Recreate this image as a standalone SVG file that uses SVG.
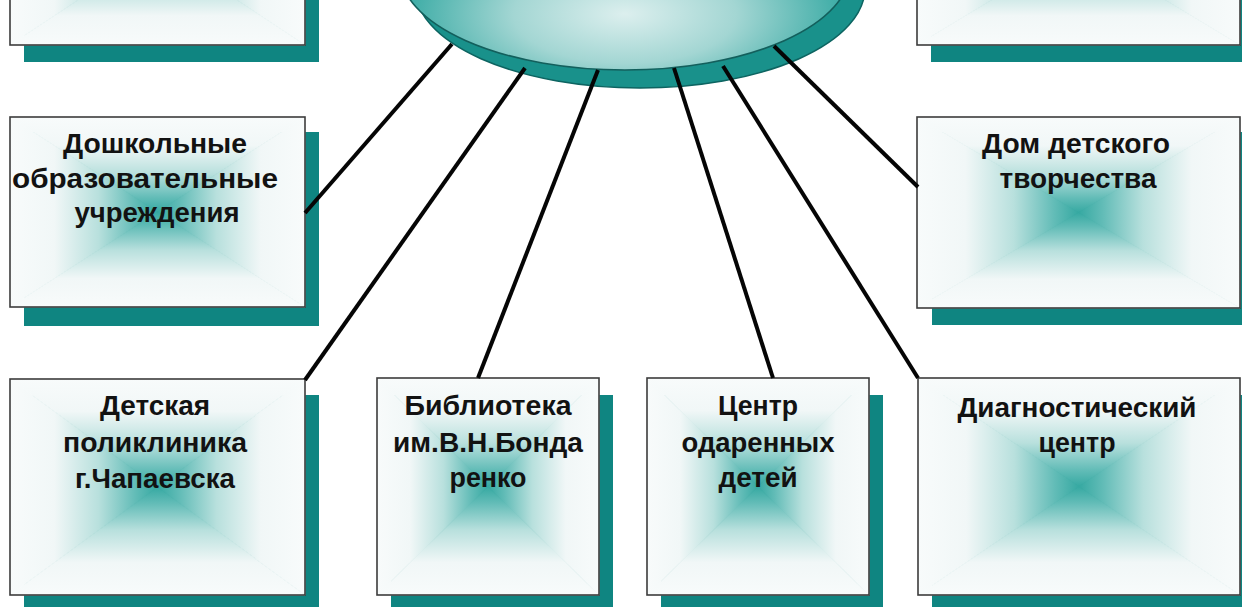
<svg xmlns="http://www.w3.org/2000/svg" width="1242" height="607" viewBox="0 0 1242 607">
<style>
.shadow{fill:#0f8581}
.frame{fill:none;stroke:#3c3c3c;stroke-width:1.6}
.t{font-family:"Liberation Sans",Arial,sans-serif;font-weight:bold;font-size:27px;fill:#121212;text-anchor:middle}
.conn{stroke:#050505;stroke-width:4;fill:none;stroke-linecap:butt}
.tri{vector-effect:non-scaling-stroke;stroke-width:0.8}
</style>
<defs>
<linearGradient id="gBase">
<stop offset="0" stop-color="#f8fbfb"/>
<stop offset="0.3" stop-color="#f1f7f7"/>
<stop offset="0.6" stop-color="#b8e0dd"/>
<stop offset="0.85" stop-color="#62bcb7"/>
<stop offset="1" stop-color="#36a9a2"/>
</linearGradient>
<linearGradient id="gT" href="#gBase" x1="0" y1="0" x2="0" y2="1"/>
<linearGradient id="gB" href="#gBase" x1="0" y1="1" x2="0" y2="0"/>
<linearGradient id="gL" href="#gBase" x1="0" y1="0" x2="1" y2="0"/>
<linearGradient id="gR" href="#gBase" x1="1" y1="0" x2="0" y2="0"/>
<g id="rg">
<polygon class="tri" points="0,0 1,0 0.5,0.5" fill="url(#gT)" stroke="url(#gT)"/>
<polygon class="tri" points="0,1 1,1 0.5,0.5" fill="url(#gB)" stroke="url(#gB)"/>
<polygon class="tri" points="0,0 0,1 0.5,0.5" fill="url(#gL)" stroke="url(#gL)"/>
<polygon class="tri" points="1,0 1,1 0.5,0.5" fill="url(#gR)" stroke="url(#gR)"/>
</g>
<radialGradient id="face" cx="0.5" cy="0.72" r="0.55">
<stop offset="0" stop-color="#dcefee"/>
<stop offset="0.45" stop-color="#a3d6d3"/>
<stop offset="0.85" stop-color="#44afa9"/>
<stop offset="1" stop-color="#2ba39d"/>
</radialGradient>
</defs>
<rect width="1242" height="607" fill="#ffffff"/>

<g id="hub">
<ellipse cx="640" cy="-12" rx="225" ry="100" fill="#19918b" stroke="#0d6461" stroke-width="1.5"/>
<ellipse cx="625" cy="-30" rx="225" ry="100" fill="url(#face)" stroke="#135f5c" stroke-width="1.6"/>
</g>

<g id="box-top-left">
<rect class="shadow" x="24" y="-133" width="295" height="195"/>
<use href="#rg" transform="translate(10,-150) scale(295,195)"/>
<rect class="frame" x="10" y="-150" width="295" height="195"/>
</g>
<g id="box-top-right">
<rect class="shadow" x="931" y="-133" width="323" height="195"/>
<use href="#rg" transform="translate(917,-150) scale(323,195)"/>
<rect class="frame" x="917" y="-150" width="323" height="195"/>
</g>

<g id="box-doshkol">
<rect class="shadow" x="24" y="132" width="295" height="194"/>
<use href="#rg" transform="translate(10,117) scale(295,190)"/>
<rect class="frame" x="10" y="117" width="295" height="190"/>
<text class="t" x="155" y="153" textLength="184" lengthAdjust="spacingAndGlyphs">Дошкольные</text>
<text class="t" x="145" y="188" textLength="266" lengthAdjust="spacingAndGlyphs">образовательные</text>
<text class="t" x="157" y="222" textLength="165" lengthAdjust="spacingAndGlyphs">учреждения</text>
</g>

<g id="box-dom">
<rect class="shadow" x="932" y="132" width="323" height="193"/>
<use href="#rg" transform="translate(917,117) scale(323,191)"/>
<rect class="frame" x="917" y="117" width="323" height="191"/>
<text class="t" x="1076" y="153" textLength="188" lengthAdjust="spacingAndGlyphs">Дом детского</text>
<text class="t" x="1078" y="188" textLength="157" lengthAdjust="spacingAndGlyphs">творчества</text>
</g>

<g id="box-poliklinika">
<rect class="shadow" x="24" y="395" width="295" height="230"/>
<use href="#rg" transform="translate(10,379) scale(295,216)"/>
<rect class="frame" x="10" y="379" width="295" height="216"/>
<text class="t" x="155" y="415" textLength="110" lengthAdjust="spacingAndGlyphs">Детская</text>
<text class="t" x="155" y="452" textLength="184" lengthAdjust="spacingAndGlyphs">поликлиника</text>
<text class="t" x="155" y="488" textLength="160" lengthAdjust="spacingAndGlyphs">г.Чапаевска</text>
</g>

<g id="box-biblioteka">
<rect class="shadow" x="391" y="395" width="222" height="230"/>
<use href="#rg" transform="translate(377,378) scale(222,217)"/>
<rect class="frame" x="377" y="378" width="222" height="217"/>
<text class="t" x="488" y="415" textLength="167" lengthAdjust="spacingAndGlyphs">Библиотека</text>
<text class="t" x="488" y="452" textLength="190" lengthAdjust="spacingAndGlyphs">им.В.Н.Бонда</text>
<text class="t" x="488" y="487" textLength="77" lengthAdjust="spacingAndGlyphs">ренко</text>
</g>

<g id="box-centr-odar">
<rect class="shadow" x="661" y="395" width="222" height="230"/>
<use href="#rg" transform="translate(647,378) scale(222,217)"/>
<rect class="frame" x="647" y="378" width="222" height="217"/>
<text class="t" x="758" y="415" textLength="80" lengthAdjust="spacingAndGlyphs">Центр</text>
<text class="t" x="758" y="452" textLength="153" lengthAdjust="spacingAndGlyphs">одаренных</text>
<text class="t" x="758" y="487" textLength="79" lengthAdjust="spacingAndGlyphs">детей</text>
</g>

<g id="box-diagnost">
<rect class="shadow" x="932" y="395" width="322" height="230"/>
<use href="#rg" transform="translate(918,378) scale(322,217)"/>
<rect class="frame" x="918" y="378" width="322" height="217"/>
<text class="t" x="1077" y="417" textLength="239" lengthAdjust="spacingAndGlyphs">Диагностический</text>
<text class="t" x="1077" y="452" textLength="77" lengthAdjust="spacingAndGlyphs">центр</text>
</g>

<g id="connectors">
<line class="conn" x1="452" y1="44" x2="305" y2="213"/>
<line class="conn" x1="525" y1="68" x2="305" y2="380"/>
<line class="conn" x1="598" y1="70" x2="478" y2="378"/>
<line class="conn" x1="674" y1="68" x2="773" y2="378"/>
<line class="conn" x1="723" y1="66" x2="918" y2="378"/>
<line class="conn" x1="774" y1="46" x2="918" y2="187"/>
</g>
</svg>
